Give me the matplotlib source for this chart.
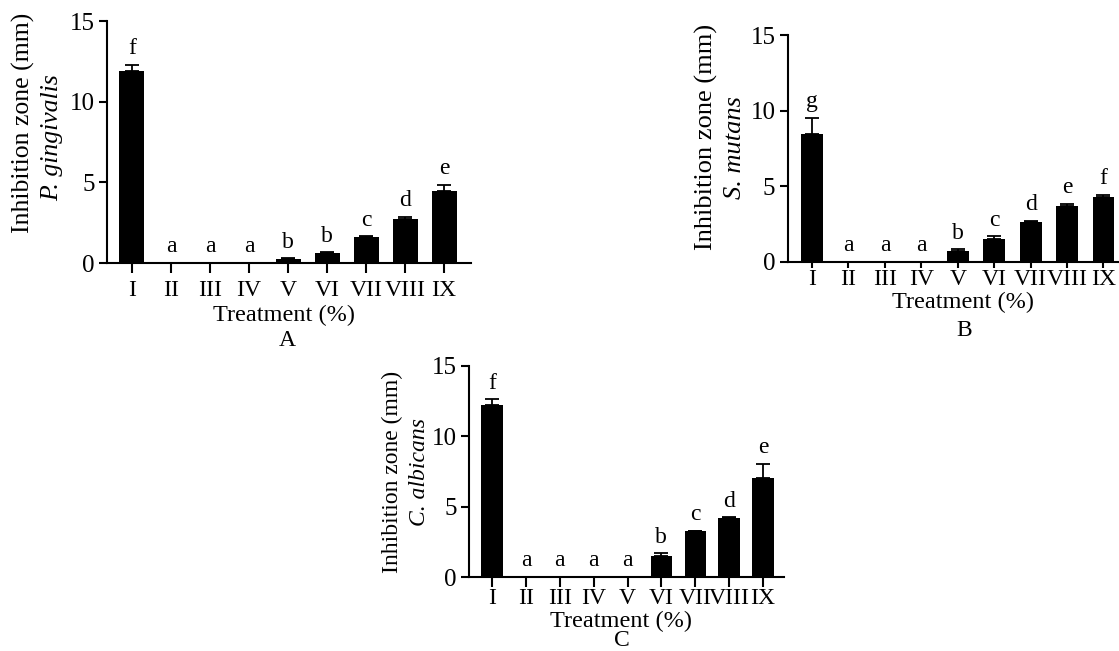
import matplotlib
matplotlib.use("Agg")
import matplotlib.pyplot as plt
import numpy as np

plt.rcParams['font.family'] = ['Liberation Serif', 'DejaVu Serif']

# treatment groups shared by the three panels
treatments = ['I', 'II', 'III', 'IV', 'V', 'VI', 'VII', 'VIII', 'IX']

# A: P. gingivalis
pg_mean = [11.9, 0, 0, 0, 0.25, 0.62, 1.63, 2.75, 4.48]
pg_err = [0.4, 0, 0, 0, 0.03, 0.05, 0.03, 0.1, 0.37]
pg_letters = ['f', 'a', 'a', 'a', 'b', 'b', 'c', 'd', 'e']

# B: S. mutans
sm_mean = [8.47, 0, 0, 0, 0.75, 1.55, 2.65, 3.73, 4.3]
sm_err = [1.06, 0, 0, 0, 0.1, 0.15, 0.07, 0.12, 0.15]
sm_letters = ['g', 'a', 'a', 'a', 'b', 'c', 'd', 'e', 'f']

# C: C. albicans
ca_mean = [12.2, 0, 0, 0, 0, 1.52, 3.25, 4.2, 7.04]
ca_err = [0.43, 0, 0, 0, 0, 0.18, 0.03, 0.05, 1.02]
ca_letters = ['f', 'a', 'a', 'a', 'a', 'b', 'c', 'd', 'e']

W, H = 1119, 651
fig = plt.figure(figsize=(W / 100, H / 100), dpi=100)


def px(x, y):
    # pixel position -> figure fraction
    return x / W, 1 - y / H


def draw_panel(box, xlim, bar_w, means, errs, letters, species, tick_len,
               tick_pad, ylab_x, ylab_y, sp_x, sp_y, ylab_size, xlab_pos, panel_pos, tag):
    left, top, right, bottom = box
    ax = fig.add_axes([left / W, 1 - bottom / H, (right - left) / W, (bottom - top) / H])
    x = np.arange(len(treatments))
    ax.bar(x, means, width=bar_w, color='black', zorder=2)
    ax.errorbar(x, means, yerr=[np.zeros(len(errs)), errs], fmt='none',
                ecolor='black', elinewidth=1.3, capsize=5, capthick=1.3, zorder=3)
    for xi, m, e, lab in zip(x, means, errs, letters):
        ax.annotate(lab, (xi, m + e), xytext=(0, 4), textcoords='offset points',
                    ha='center', va='bottom', fontsize=17)
    ax.set_xlim(*xlim)
    ax.set_ylim(0, 15)
    ax.set_yticks([0, 5, 10, 15])
    ax.set_xticks(x)
    ax.set_xticklabels(treatments)
    for s in ['top', 'right']:
        ax.spines[s].set_visible(False)
    for s in ['left', 'bottom']:
        ax.spines[s].set_linewidth(1.5)
    ax.tick_params(axis='x', length=tick_len, width=1.5, pad=tick_pad, labelsize=17)
    ax.tick_params(axis='y', length=6, width=1.5, pad=3, labelsize=18)
    fx, fy = px(ylab_x, ylab_y)
    fig.text(fx, fy, 'Inhibition zone (mm)', rotation=90, ha='center', va='center',
             fontsize=ylab_size)
    fx, fy = px(sp_x, sp_y)
    fig.text(fx, fy, species, rotation=90, ha='center', va='center',
             fontsize=ylab_size, fontstyle='italic')
    fx, fy = px(*xlab_pos)
    fig.text(fx, fy, 'Treatment (%)', ha='center', va='center', fontsize=17.5)
    fx, fy = px(*panel_pos)
    fig.text(fx, fy, tag, ha='center', va='center', fontsize=17)
    return ax


draw_panel((107, 21, 471, 263), (-0.64, 8.69), 0.64, pg_mean, pg_err, pg_letters,
           'P. gingivalis', 7, 5, 23, 123, 52, 138, 18.5, (284, 315), (287, 341), 'A')
draw_panel((788, 35, 1129, 262), (-0.66, 8.7), 0.6, sm_mean, sm_err, sm_letters,
           'S. mutans', 4, 1, 706, 137, 735, 148, 19, (963, 302), (964, 331), 'B')
draw_panel((469, 366, 784, 577), (-0.68, 8.62), 0.63, ca_mean, ca_err, ca_letters,
           'C. albicans', 7, 1, 392, 472, 420, 472, 17, (621, 621), (622, 640), 'C')

fig.savefig('out.png', dpi=100)
